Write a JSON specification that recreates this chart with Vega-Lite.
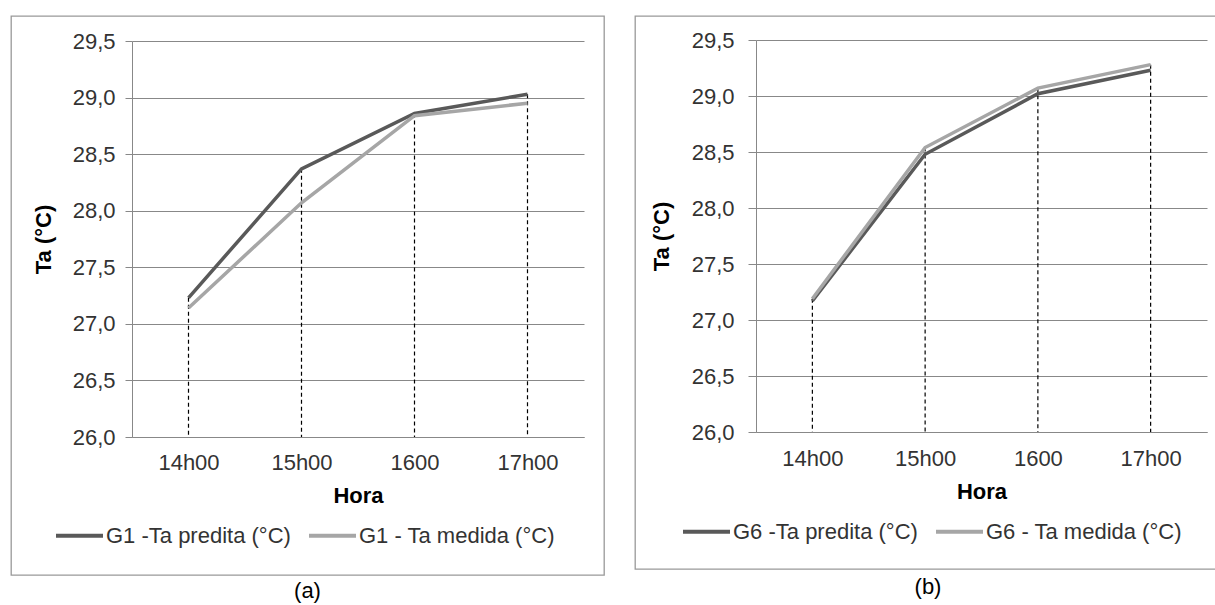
{
  "$schema": "https://vega.github.io/schema/vega-lite/v6.json",
  "padding": {"left": 10, "top": 15, "right": 0, "bottom": 0},
  "background": "white",
  "spacing": 29,
  "config": {
    "font": "Liberation Sans",
    "view": {"stroke": "#999999", "strokeWidth": 1.3},
    "axis": {
      "labelFont": "Liberation Sans",
      "titleFont": "Liberation Sans",
      "labelFontSize": 22,
      "titleFontSize": 22,
      "labelColor": "#333333",
      "titleColor": "#000000",
      "titleFontWeight": "bold",
      "domainColor": "#888888",
      "tickColor": "#888888",
      "gridColor": "#888888",
      "domainWidth": 1,
      "gridWidth": 1
    },
    "legend": {
      "labelFont": "Liberation Sans",
      "labelFontSize": 22,
      "labelColor": "#333333",
      "labelLimit": 400
    },
    "title": {"font": "Liberation Sans"}
  },
  "hconcat": [
    {
      "width": 593,
      "height": 559,
      "title": {"text": "(a)", "orient": "bottom", "offset": 6, "fontSize": 22, "fontWeight": "normal", "color": "#000000", "anchor": "middle"},
      "data": {
        "values": [
          {"hora": "14h00", "serie": "G1 -Ta predita (°C)", "ta": 27.23},
          {"hora": "15h00", "serie": "G1 -Ta predita (°C)", "ta": 28.37},
          {"hora": "1600", "serie": "G1 -Ta predita (°C)", "ta": 28.86},
          {"hora": "17h00", "serie": "G1 -Ta predita (°C)", "ta": 29.03},
          {"hora": "14h00", "serie": "G1 - Ta medida (°C)", "ta": 27.14},
          {"hora": "15h00", "serie": "G1 - Ta medida (°C)", "ta": 28.07},
          {"hora": "1600", "serie": "G1 - Ta medida (°C)", "ta": 28.84},
          {"hora": "17h00", "serie": "G1 - Ta medida (°C)", "ta": 28.95}
        ]
      },
      "encoding": {
        "x": {
          "field": "hora", "type": "ordinal",
          "scale": {"type": "point", "domain": ["14h00", "15h00", "1600", "17h00"], "range": [121, 573], "padding": 0.5},
          "axis": {"title": "Hora", "orient": "bottom", "offset": -138, "grid": false, "ticks": false, "tickSize": 0, "labelPadding": 15, "labelAngle": 0, "titlePadding": 12}
        }
      },
      "layer": [
        {
          "transform": [{"aggregate": [{"op": "max", "field": "ta", "as": "topo"}], "groupby": ["hora"]}],
          "mark": {"type": "rule", "strokeDash": [4, 3], "color": "#000000", "strokeWidth": 1.2},
          "encoding": {
            "y": {"field": "topo", "type": "quantitative", "scale": {"domain": [26, 29.5], "range": [421, 25], "nice": false, "zero": false}},
            "y2": {"datum": 26}
          }
        },
        {
          "mark": {"type": "line", "strokeWidth": 3.5},
          "encoding": {
            "y": {
              "field": "ta", "type": "quantitative",
              "scale": {"domain": [26, 29.5], "range": [421, 25], "nice": false, "zero": false},
              "axis": {"title": "Ta (°C)", "values": [26, 26.5, 27, 27.5, 28, 28.5, 29, 29.5], "labelExpr": "replace(format(datum.value, '.1f'), '.', ',')", "grid": true, "tickSize": 7, "labelPadding": 10, "titlePadding": 17, "offset": -121}
            },
            "color": {
              "field": "serie", "type": "nominal",
              "scale": {"domain": ["G1 -Ta predita (°C)", "G1 - Ta medida (°C)"], "range": ["#595959", "#a6a6a6"]},
              "legend": {"orient": "none", "legendX": 43, "legendY": 494, "direction": "horizontal", "title": null, "symbolType": "stroke", "symbolSize": 2209, "symbolStrokeWidth": 4, "labelOffset": 1, "columnPadding": 10, "padding": 0}
            }
          }
        }
      ]
    },
    {
      "width": 586,
      "height": 553,
      "title": {"text": "(b)", "orient": "bottom", "offset": 8, "fontSize": 22, "fontWeight": "normal", "color": "#000000", "anchor": "middle"},
      "data": {
        "values": [
          {"hora": "14h00", "serie": "G6 -Ta predita (°C)", "ta": 27.17},
          {"hora": "15h00", "serie": "G6 -Ta predita (°C)", "ta": 28.48},
          {"hora": "1600", "serie": "G6 -Ta predita (°C)", "ta": 29.02},
          {"hora": "17h00", "serie": "G6 -Ta predita (°C)", "ta": 29.23},
          {"hora": "14h00", "serie": "G6 - Ta medida (°C)", "ta": 27.19},
          {"hora": "15h00", "serie": "G6 - Ta medida (°C)", "ta": 28.54},
          {"hora": "1600", "serie": "G6 - Ta medida (°C)", "ta": 29.07},
          {"hora": "17h00", "serie": "G6 - Ta medida (°C)", "ta": 29.28}
        ]
      },
      "encoding": {
        "x": {
          "field": "hora", "type": "ordinal",
          "scale": {"type": "point", "domain": ["14h00", "15h00", "1600", "17h00"], "range": [121, 572], "padding": 0.5},
          "axis": {"title": "Hora", "orient": "bottom", "offset": -137, "grid": false, "ticks": false, "tickSize": 0, "labelPadding": 16, "labelAngle": 0, "titlePadding": 12}
        }
      },
      "layer": [
        {
          "transform": [{"aggregate": [{"op": "max", "field": "ta", "as": "topo"}], "groupby": ["hora"]}],
          "mark": {"type": "rule", "strokeDash": [4, 3], "color": "#000000", "strokeWidth": 1.2},
          "encoding": {
            "y": {"field": "topo", "type": "quantitative", "scale": {"domain": [26, 29.5], "range": [416, 24], "nice": false, "zero": false}},
            "y2": {"datum": 26}
          }
        },
        {
          "mark": {"type": "line", "strokeWidth": 3.5},
          "encoding": {
            "y": {
              "field": "ta", "type": "quantitative",
              "scale": {"domain": [26, 29.5], "range": [416, 24], "nice": false, "zero": false},
              "axis": {"title": "Ta (°C)", "values": [26, 26.5, 27, 27.5, 28, 28.5, 29, 29.5], "labelExpr": "replace(format(datum.value, '.1f'), '.', ',')", "grid": true, "tickSize": 8, "labelPadding": 14, "titlePadding": 18, "offset": -121}
            },
            "color": {
              "field": "serie", "type": "nominal",
              "scale": {"domain": ["G6 -Ta predita (°C)", "G6 - Ta medida (°C)"], "range": ["#595959", "#a6a6a6"]},
              "legend": {"orient": "none", "legendX": 46, "legendY": 490, "direction": "horizontal", "title": null, "symbolType": "stroke", "symbolSize": 2209, "symbolStrokeWidth": 4, "labelOffset": 1, "columnPadding": 10, "padding": 0}
            }
          }
        }
      ]
    }
  ],
  "resolve": {"scale": {"color": "independent", "x": "independent", "y": "independent"}}
}
